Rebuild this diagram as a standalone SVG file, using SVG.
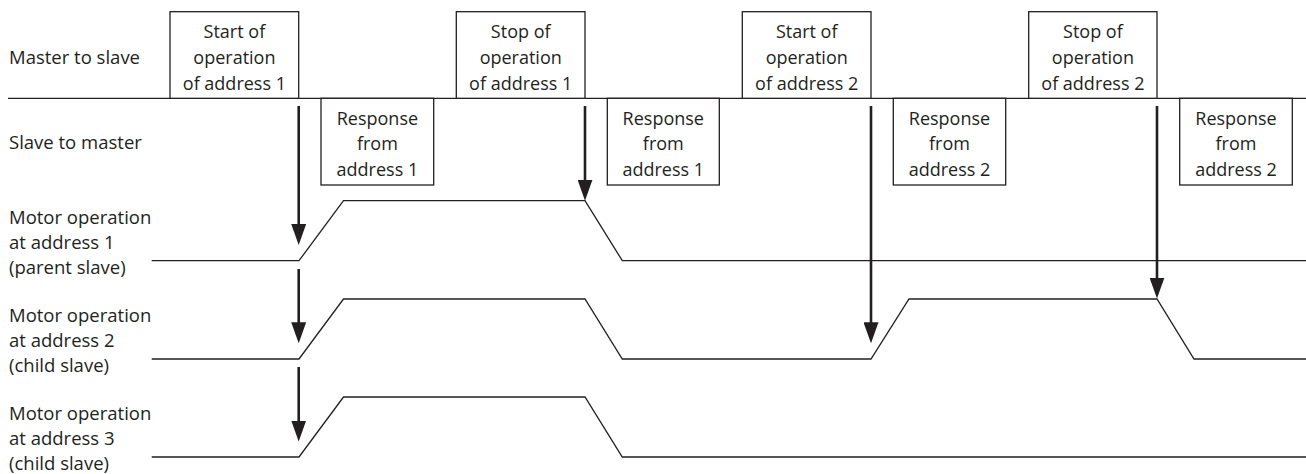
<svg xmlns="http://www.w3.org/2000/svg" width="1306" height="474" viewBox="0 0 1306 474">
<style>
.bg{fill:#ffffff}
.box{fill:#ffffff;stroke:#231f20;stroke-width:1.3}
.ln{fill:none;stroke:#231f20;stroke-width:1.3;stroke-linejoin:miter}
.arr{stroke:#231f20;stroke-width:2.6;fill:none}
.t{font-family:"Open Sans","Liberation Sans",sans-serif;font-size:18px;fill:#231f20}
.c{text-anchor:middle}
.lbl{font-family:"Open Sans","Liberation Sans",sans-serif;font-size:18.5px;fill:#231f20}
</style>
<defs>
<marker id="ah" viewBox="0 0 21 15" refX="2" refY="7.5" markerWidth="21" markerHeight="15" markerUnits="userSpaceOnUse" orient="auto">
<path d="M0,0 L21,7.5 L0,15 Z" fill="#231f20"/>
</marker>
</defs>
<rect class="bg" x="0" y="0" width="1306" height="474"/>

<g id="labels">
<text class="lbl" x="9" y="64.3">Master to slave</text>
<text class="lbl" x="9" y="149">Slave to master</text>
<text class="lbl" x="9" y="224">Motor operation</text>
<text class="lbl" x="9" y="249">at address 1</text>
<text class="lbl" x="9" y="274">(parent slave)</text>
<text class="lbl" x="9" y="322">Motor operation</text>
<text class="lbl" x="9" y="347">at address 2</text>
<text class="lbl" x="9" y="372">(child slave)</text>
<text class="lbl" x="9" y="420">Motor operation</text>
<text class="lbl" x="9" y="445">at address 3</text>
<text class="lbl" x="9" y="470">(child slave)</text>
</g>

<g id="timelines">
<line class="ln" x1="8" y1="98.3" x2="1306" y2="98.3"/>
<path id="motor1" class="ln" d="M151.7,260.7 H299 L343.5,200.7 H585 L622.3,260.7 H1306"/>
<path id="motor2" class="ln" d="M151.7,359 H299 L343.5,299 H585 L622.3,359 H871 L909,299 H1157 L1194,359 H1306"/>
<path id="motor3" class="ln" d="M151.7,457 H299 L343.5,397 H585 L622.3,457 H1306"/>
</g>

<g id="start1">
<rect class="box" x="170" y="11.7" width="128.7" height="86.6"/>
<text class="t c" x="234.4" y="37.7">Start of</text>
<text class="t c" x="234.4" y="63.7">operation</text>
<text class="t c" x="234.4" y="89.7">of address 1</text>
</g>
<g id="resp1">
<rect class="box" x="321" y="98.3" width="112.7" height="86.7"/>
<text class="t c" x="377.4" y="124.5">Response</text>
<text class="t c" x="377.4" y="150.3">from</text>
<text class="t c" x="377.4" y="176">address 1</text>
</g>
<g id="stop1">
<rect class="box" x="456.3" y="11.7" width="128.7" height="86.6"/>
<text class="t c" x="520.7" y="37.7">Stop of</text>
<text class="t c" x="520.7" y="63.7">operation</text>
<text class="t c" x="520.7" y="89.7">of address 1</text>
</g>
<g id="resp2">
<rect class="box" x="607.3" y="98.3" width="112" height="86.7"/>
<text class="t c" x="663.3" y="124.5">Response</text>
<text class="t c" x="663.3" y="150.3">from</text>
<text class="t c" x="663.3" y="176">address 1</text>
</g>
<g id="start2">
<rect class="box" x="742.3" y="11.7" width="128.7" height="86.6"/>
<text class="t c" x="806.7" y="37.7">Start of</text>
<text class="t c" x="806.7" y="63.7">operation</text>
<text class="t c" x="806.7" y="89.7">of address 2</text>
</g>
<g id="resp3">
<rect class="box" x="893.3" y="98.3" width="112.4" height="86.7"/>
<text class="t c" x="949.5" y="124.5">Response</text>
<text class="t c" x="949.5" y="150.3">from</text>
<text class="t c" x="949.5" y="176">address 2</text>
</g>
<g id="stop2">
<rect class="box" x="1028.7" y="11.7" width="128.3" height="86.6"/>
<text class="t c" x="1092.9" y="37.7">Stop of</text>
<text class="t c" x="1092.9" y="63.7">operation</text>
<text class="t c" x="1092.9" y="89.7">of address 2</text>
</g>
<g id="resp4">
<rect class="box" x="1179.7" y="98.3" width="112.6" height="86.7"/>
<text class="t c" x="1236" y="124.5">Response</text>
<text class="t c" x="1236" y="150.3">from</text>
<text class="t c" x="1236" y="176">address 2</text>
</g>

<g id="connectors">
<line class="arr" x1="298.7" y1="106" x2="298.7" y2="226" marker-end="url(#ah)"/>
<line class="arr" x1="298.7" y1="269" x2="298.7" y2="324.3" marker-end="url(#ah)"/>
<line class="arr" x1="298.7" y1="367" x2="298.7" y2="422.5" marker-end="url(#ah)"/>
<line class="arr" x1="585" y1="106" x2="585" y2="181.7" marker-end="url(#ah)"/>
<line class="arr" x1="871" y1="106" x2="871" y2="324.3" marker-end="url(#ah)"/>
<line class="arr" x1="1157" y1="106" x2="1157" y2="279.5" marker-end="url(#ah)"/>
</g>
</svg>
